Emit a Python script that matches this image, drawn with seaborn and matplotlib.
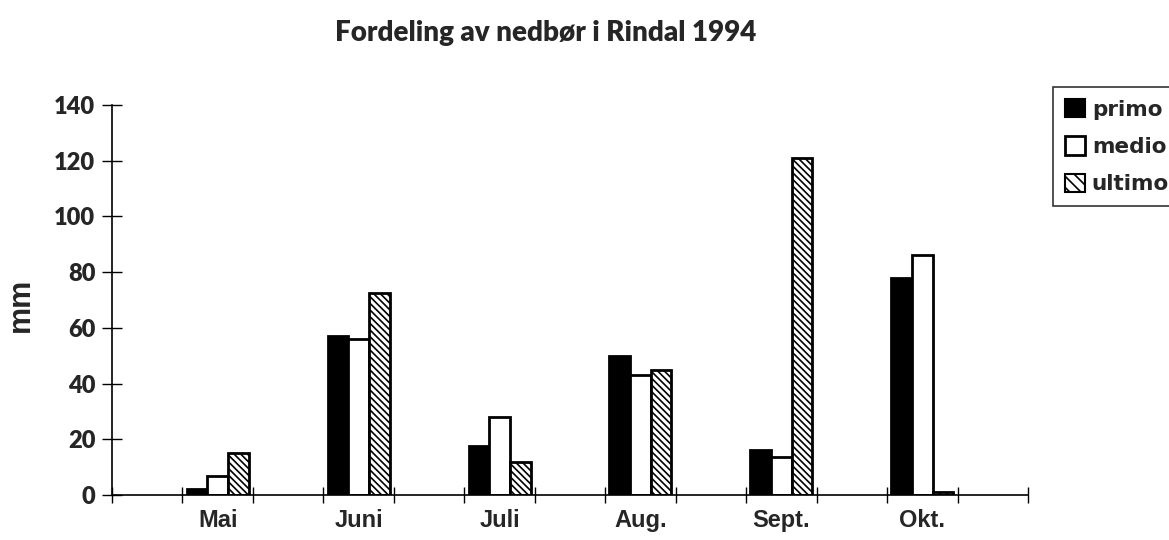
import numpy as np
import pandas as pd
import seaborn as sns
import matplotlib
matplotlib.use("Agg")
import matplotlib.pyplot as plt
from matplotlib.patches import Patch

# ---- data ----
months = ["Mai", "Juni", "Juli", "Aug.", "Sept.", "Okt."]
periods = ["primo", "medio", "ultimo"]
primo = [2, 57, 17.5, 50, 16, 78]
medio = [7, 56, 28, 43, 13.5, 86]
ultimo = [15, 72.5, 12, 45, 121, 1]
yticks = [0, 20, 40, 60, 80, 100, 120, 140]

title = "Fordeling av nedbør i Rindal 1994"
ylabel = "mm"

# category slots: blank slots between months, as on the original axis
slots = []
for i, m in enumerate(months):
    slots.append(" " * (i + 1))
    slots.append(m)
slots.append(" " * (len(months) + 1))

rows = []
for i, m in enumerate(months):
    rows.append((m, "primo", primo[i]))
    rows.append((m, "medio", medio[i]))
    rows.append((m, "ultimo", ultimo[i]))
df = pd.DataFrame(rows, columns=["month", "period", "mm"])

sns.set_theme(style="white")
plt.rcParams["font.family"] = ["Lato", "DejaVu Sans"]
plt.rcParams["hatch.linewidth"] = 1.2

fig = plt.figure(figsize=(11.69, 5.40), dpi=100)
ax = fig.add_axes([112 / 1169, 1 - 495 / 540, (1028 - 112) / 1169, (495 - 105) / 540])

sns.barplot(data=df, x="month", y="mm", hue="period", order=slots,
            hue_order=periods, width=0.88, ax=ax, legend=False,
            palette=["black", "white", "white"], saturation=1,
            edgecolor="black", linewidth=2.0)

styles = {"primo": ("black", ""), "medio": ("white", ""), "ultimo": ("white", "\\\\\\\\\\")}
for cont, p in zip(ax.containers, periods):
    fc, h = styles[p]
    for bar in cont:
        bar.set_facecolor(fc)
        bar.set_hatch(h)
        bar.set_edgecolor("black")

ax.set_xlim(-0.5, len(slots) - 0.5)
ax.set_ylim(0, 140)
ax.set_yticks(yticks)
ax.set_yticklabels([str(t) for t in yticks], fontsize=17, fontweight="heavy")
ax.set_xticks(range(len(slots)))
ax.set_xticklabels([s.strip() for s in slots], fontsize=17, fontweight="bold",
                   family=["Liberation Sans", "DejaVu Sans"])
ax.set_xticks(np.arange(-0.5, len(slots), 1), minor=True)
ax.tick_params(axis="x", which="major", bottom=True, length=0, pad=10)
ax.tick_params(axis="x", which="minor", bottom=True, length=12, direction="inout",
               width=1, color="black")
ax.tick_params(axis="y", left=True, length=14, direction="inout", width=1,
               color="black", pad=5)
ax.set_xlabel("")
ax.set_ylabel(ylabel, fontsize=22, fontweight="bold",
              family=["Liberation Sans", "DejaVu Sans"])
ax.yaxis.set_label_coords((36 - 112) / 916, (495 - 305) / 390)

for s in ["top", "right"]:
    ax.spines[s].set_visible(False)
for s in ["left", "bottom"]:
    ax.spines[s].set_color("black")
    ax.spines[s].set_linewidth(1.2)
ax.grid(False)

fig.text(546 / 1169, 1 - 33 / 540, title, ha="center", va="center",
         fontsize=20, fontweight="heavy")

handles = [Patch(facecolor="black", edgecolor="black", linewidth=1.5),
           Patch(facecolor="white", edgecolor="black", linewidth=2),
           Patch(facecolor="white", edgecolor="black", hatch="\\\\\\", linewidth=1.5)]
leg = fig.legend(handles, periods, loc="upper left",
                 bbox_to_anchor=(1053 / 1169, 1 - 87 / 540),
                 frameon=True, fancybox=False, edgecolor="black",
                 prop={"size": 15.5, "weight": "bold", "family": "DejaVu Sans"},
                 handlelength=0.95, handleheight=0.95, handletextpad=0.3,
                 labelspacing=0.78, borderpad=0.55, borderaxespad=0)
leg.get_frame().set_linewidth(1.2)

fig.savefig("out.png", dpi=100)
